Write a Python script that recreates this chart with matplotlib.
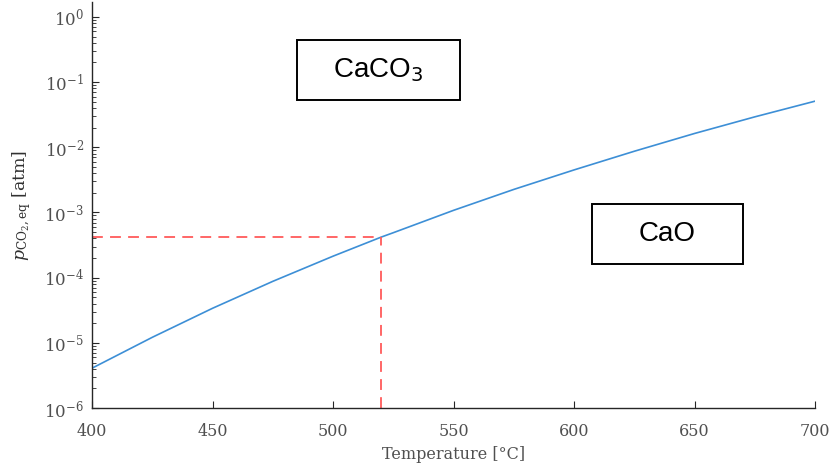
import numpy as np
import matplotlib
matplotlib.use('Agg')
import matplotlib.pyplot as plt
from matplotlib.patches import Rectangle

plt.rcParams['font.family'] = 'DejaVu Serif'
plt.rcParams['mathtext.fontset'] = 'dejavuserif'

# values
temp = [400, 425, 450, 475, 500, 520, 525, 550, 575, 600, 625, 650, 675, 700]
p_eq = [4.1e-6, 1.22e-5, 3.4e-5, 8.8e-5, 2.14e-4, 4.2e-4, 4.9e-4, 1.08e-3,
        2.26e-3, 4.5e-3, 8.7e-3, 1.63e-2, 2.93e-2, 5.1e-2]
t_mark = 520
p_mark = 4.2e-4

y_ticks = [1e-6, 1e-5, 1e-4, 1e-3, 1e-2, 1e-1, 1e0]
y_labels = ['$10^{-6}$', '$10^{-5}$', '$10^{-4}$', '$10^{-3}$', '$10^{-2}$', '$10^{-1}$', '$10^{0}$']
x_ticks = [400, 450, 500, 550, 600, 650, 700]

fig = plt.figure(figsize=(8.3, 4.68), dpi=100)
ax = fig.add_axes([0.111, 0.128, 0.871, 0.868])

ax.plot(temp, p_eq, color='#3d8fd6', lw=1.2)
ax.plot([400, t_mark], [p_mark, p_mark], color='#ff5a5a', lw=1.3, ls=(0, (6, 4)))
ax.plot([t_mark, t_mark], [1e-6, p_mark], color='#ff5a5a', lw=1.3, ls=(0, (6, 4)))

ax.set_yscale('log')
ax.set_xlim(400, 700)
ax.set_ylim(1e-6, 1.7)
ax.set_yticks(y_ticks)
ax.set_yticklabels(y_labels)
ax.set_xticks(x_ticks)

for s in ['top', 'right']:
    ax.spines[s].set_visible(False)
for s in ['left', 'bottom']:
    ax.spines[s].set_color('#262626')
    ax.spines[s].set_linewidth(1.0)

ax.tick_params(which='both', direction='in', colors='#262626', labelcolor='#505050')
ax.tick_params(which='major', length=5)
ax.tick_params(which='minor', length=3)
ax.tick_params(axis='x', pad=11, labelsize=11.5)
ax.tick_params(axis='y', pad=6, labelsize=12)

ax.set_xlabel('Temperature [°C]', fontsize=11.5, color='#505050', labelpad=4)
ax.set_ylabel(r'$p_{\mathrm{CO_2,eq}}$ [atm]', fontsize=12.5, color='#303030', labelpad=8)

# label boxes
fig.add_artist(Rectangle((297/830, 1 - 100/468), 163/830, 60/468, transform=fig.transFigure,
                         fill=False, ec='black', lw=1.4))
fig.text(378/830, 1 - 70/468, 'CaCO$_3$', ha='center', va='center', fontsize=20,
         family='Liberation Sans', math_fontfamily='dejavusans')
fig.add_artist(Rectangle((592/830, 1 - 264/468), 151/830, 60/468, transform=fig.transFigure,
                         fill=False, ec='black', lw=1.4))
fig.text(667/830, 1 - 234/468, 'CaO', ha='center', va='center', fontsize=20,
         family='Liberation Sans')

fig.savefig('out.png', dpi=100)
